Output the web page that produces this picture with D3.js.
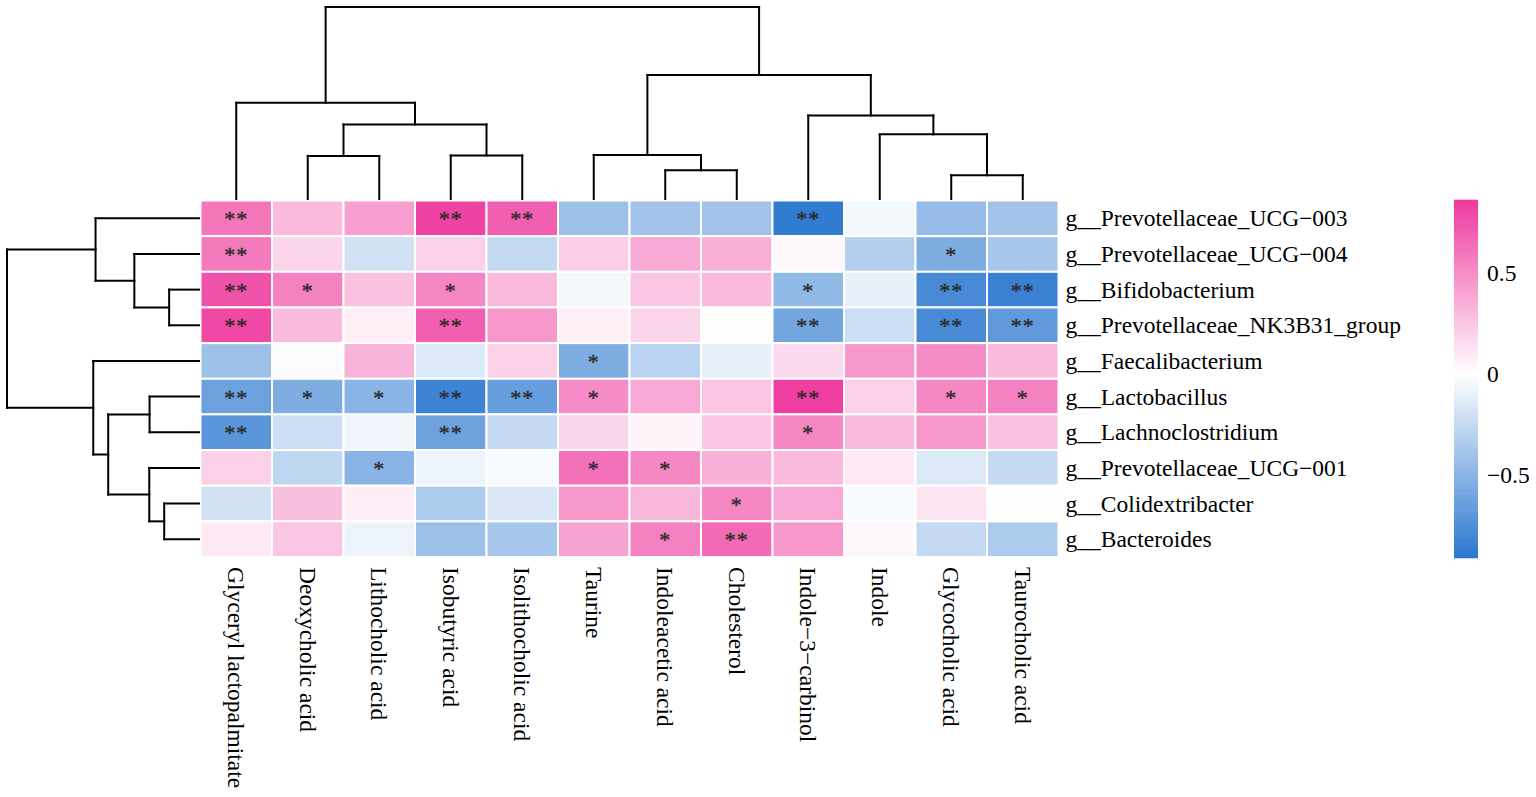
<!DOCTYPE html>
<html>
<head>
<meta charset="utf-8">
<script src="https://cdn.jsdelivr.net/npm/d3@7"></script>
<style>
  body { margin: 0; background: #fff; }
  text { font-family: "Liberation Serif", "Times New Roman", serif; fill: #000; }
</style>
</head>
<body>
<div id="chart"></div>
<script>
// Data
var columns = ["Glyceryl lactopalmitate", "Deoxycholic acid", "Lithocholic acid", "Isobutyric acid",
  "Isolithocholic acid", "Taurine", "Indoleacetic acid", "Cholesterol", "Indole\u22123\u2212carbinol",
  "Indole", "Glycocholic acid", "Taurocholic acid"];

var rows = ["g__Prevotellaceae_UCG\u2212003", "g__Prevotellaceae_UCG\u2212004", "g__Bifidobacterium",
  "g__Prevotellaceae_NK3B31_group", "g__Faecalibacterium", "g__Lactobacillus", "g__Lachnoclostridium",
  "g__Prevotellaceae_UCG\u2212001", "g__Colidextribacter", "g__Bacteroides"];

// correlation values, one array per row
var r1 = [0.60, 0.30, 0.42, 0.82, 0.70, -0.42, -0.40, -0.40, -0.88, -0.05, -0.45, -0.40];
var r2 = [0.58, 0.18, -0.20, 0.20, -0.25, 0.22, 0.38, 0.35, 0.03, -0.32, -0.55, -0.38];
var r3 = [0.75, 0.55, 0.27, 0.52, 0.30, -0.05, 0.25, 0.30, -0.47, -0.10, -0.78, -0.84];
var r4 = [0.80, 0.30, 0.07, 0.70, 0.45, 0.07, 0.18, 0.01, -0.60, -0.22, -0.78, -0.68];
var r5 = [-0.42, -0.02, 0.33, -0.15, 0.20, -0.55, -0.30, -0.10, 0.16, 0.45, 0.50, 0.30];
var r6 = [-0.63, -0.55, -0.50, -0.82, -0.65, 0.50, 0.38, 0.25, 0.84, 0.20, 0.52, 0.55];
var r7 = [-0.70, -0.22, -0.07, -0.62, -0.25, 0.18, 0.05, 0.25, 0.52, 0.30, 0.45, 0.27];
var r8 = [0.20, -0.27, -0.50, -0.08, -0.04, 0.62, 0.52, 0.35, 0.30, 0.10, -0.15, -0.25];
var r9 = [-0.20, 0.28, 0.08, -0.35, -0.16, 0.45, 0.32, 0.52, 0.38, -0.03, 0.12, -0.01];
var r10 = [0.10, 0.25, -0.08, -0.42, -0.38, 0.40, 0.55, 0.65, 0.45, 0.04, -0.25, -0.35];
var values = [r1, r2, r3, r4, r5, r6, r7, r8, r9, r10];

// significance marks
var s1 = ["**", "", "", "**", "**", "", "", "", "**", "", "", ""];
var s2 = ["**", "", "", "", "", "", "", "", "", "", "*", ""];
var s3 = ["**", "*", "", "*", "", "", "", "", "*", "", "**", "**"];
var s4 = ["**", "", "", "**", "", "", "", "", "**", "", "**", "**"];
var s5 = ["", "", "", "", "", "*", "", "", "", "", "", ""];
var s6 = ["**", "*", "*", "**", "**", "*", "", "", "**", "", "*", "*"];
var s7 = ["**", "", "", "**", "", "", "", "", "*", "", "", ""];
var s8 = ["", "", "*", "", "", "*", "*", "", "", "", "", ""];
var s9 = ["", "", "", "", "", "", "", "*", "", "", "", ""];
var s10 = ["", "", "", "", "", "", "*", "**", "", "", "", ""];
var stars = [s1, s2, s3, s4, s5, s6, s7, s8, s9, s10];

// clustering trees: [left, right, height], leaves are indices
var colTree = [[0, [[1, 2, 0.897], [3, 4, 0.906], 1.554], 2.004],
               [[5, [6, 7, 0.601], 0.918], [8, [9, [10, 11, 0.497], 1.347], 1.741], 2.584], 4.0];
var rowTree = [[0, [1, [2, 3, 0.622], 1.347], 2.155],
               [4, [[5, 6, 1.03], [7, [8, 9, 0.725], 1.036], 1.892], 2.203], 4.0];

var legendTicks = [-0.5, 0, 0.5];
var valueMin = -0.91, valueMax = 0.86;

// Set up chart
var svgWidth = 1536;
var svgHeight = 797;

var grid = { left: 200.5, right: 1058.5, top: 200.5, bottom: 557 };

var svg = d3.select("#chart")
  .append("svg")
  .attr("width", svgWidth)
  .attr("height", svgHeight);

var xBand = d3.scaleBand().domain(d3.range(columns.length)).range([grid.left, grid.right]);
var yBand = d3.scaleBand().domain(d3.range(rows.length)).range([grid.top, grid.bottom]);

var color = d3.scaleLinear()
  .domain([valueMin, 0, valueMax])
  .range(["#2A77CF", "#FFFFFF", "#EE3A9E"]);

// Heatmap cells
var cells = [];
values.forEach(function(row, i) {
  row.forEach(function(v, j) {
    cells.push({ i: i, j: j, v: v, s: stars[i][j] });
  });
});

svg.append("g").selectAll("rect")
  .data(cells)
  .enter()
  .append("rect")
  .attr("x", d => xBand(d.j))
  .attr("y", d => yBand(d.i))
  .attr("width", xBand.bandwidth())
  .attr("height", yBand.bandwidth())
  .attr("fill", d => color(d.v))
  .attr("stroke", "#fff")
  .attr("stroke-width", 2);

svg.append("g").selectAll("text")
  .data(cells.filter(d => d.s))
  .enter()
  .append("text")
  .attr("x", d => xBand(d.j) + xBand.bandwidth() / 2)
  .attr("y", d => yBand(d.i) + yBand.bandwidth() / 2 + 8)
  .attr("text-anchor", "middle")
  .attr("letter-spacing", "1px")
  .style("font-size", "22px")
  .style("fill", "#2a2a2a")
  .style("stroke", "#2a2a2a")
  .style("stroke-width", "0.4px")
  .text(d => d.s);

// Dendrograms
var colH = d3.scaleLinear().domain([0, 4]).range([199, 7]);
var rowH = d3.scaleLinear().domain([0, 4]).range([199, 7]);

// returns {pos, h}; pushes segments as [pos1, h1, pos2, h2]
function layoutTree(node, leafPos, segs) {
  if (!Array.isArray(node)) return { pos: leafPos(node), h: 0 };
  var a = layoutTree(node[0], leafPos, segs);
  var b = layoutTree(node[1], leafPos, segs);
  var h = node[2];
  segs.push([a.pos, a.h, a.pos, h]);
  segs.push([b.pos, b.h, b.pos, h]);
  segs.push([a.pos, h, b.pos, h]);
  return { pos: (a.pos + b.pos) / 2, h: h };
}

var colSegs = [];
layoutTree(colTree, j => xBand(j) + xBand.bandwidth() / 2, colSegs);
svg.append("g").selectAll("line")
  .data(colSegs)
  .enter()
  .append("line")
  .attr("x1", d => d[0]).attr("y1", d => colH(d[1]))
  .attr("x2", d => d[2]).attr("y2", d => colH(d[3]))
  .attr("stroke", "#000")
  .attr("stroke-width", 2)
  .attr("stroke-linecap", "square");

var rowSegs = [];
layoutTree(rowTree, i => yBand(i) + yBand.bandwidth() / 2, rowSegs);
svg.append("g").selectAll("line")
  .data(rowSegs)
  .enter()
  .append("line")
  .attr("y1", d => d[0]).attr("x1", d => rowH(d[1]))
  .attr("y2", d => d[2]).attr("x2", d => rowH(d[3]))
  .attr("stroke", "#000")
  .attr("stroke-width", 2)
  .attr("stroke-linecap", "square");

// Row labels
svg.append("g").selectAll("text")
  .data(rows)
  .enter()
  .append("text")
  .attr("x", grid.right + 7)
  .attr("y", (d, i) => yBand(i) + yBand.bandwidth() / 2)
  .attr("dominant-baseline", "central")
  .style("font-size", "23.5px")
  .text(d => d);

// Column labels
svg.append("g").selectAll("text")
  .data(columns)
  .enter()
  .append("text")
  .attr("transform", (d, j) => `translate(${xBand(j) + xBand.bandwidth() / 2}, ${grid.bottom + 10}) rotate(90)`)
  .attr("dominant-baseline", "central")
  .style("font-size", "23.5px")
  .text(d => d);

// Colour legend
var legendY = d3.scaleLinear().domain([valueMin, valueMax]).range([558, 200]);
var legendSteps = d3.range(100).map(k => valueMin + (valueMax - valueMin) * k / 100);
var stepH = (legendY(valueMin) - legendY(valueMax)) / 100;

svg.append("g").selectAll("rect")
  .data(legendSteps)
  .enter()
  .append("rect")
  .attr("x", 1454)
  .attr("y", d => legendY(d) - stepH - 0.3)
  .attr("width", 24)
  .attr("height", stepH + 0.6)
  .attr("fill", d => color(d + (valueMax - valueMin) / 200));

svg.append("g").selectAll("text")
  .data(legendTicks)
  .enter()
  .append("text")
  .attr("x", 1487)
  .attr("y", d => legendY(d))
  .attr("dominant-baseline", "central")
  .style("font-size", "23.5px")
  .text(d => d === 0 ? "0" : (d < 0 ? "\u2212" + Math.abs(d) : d));
</script>
</body>
</html>
